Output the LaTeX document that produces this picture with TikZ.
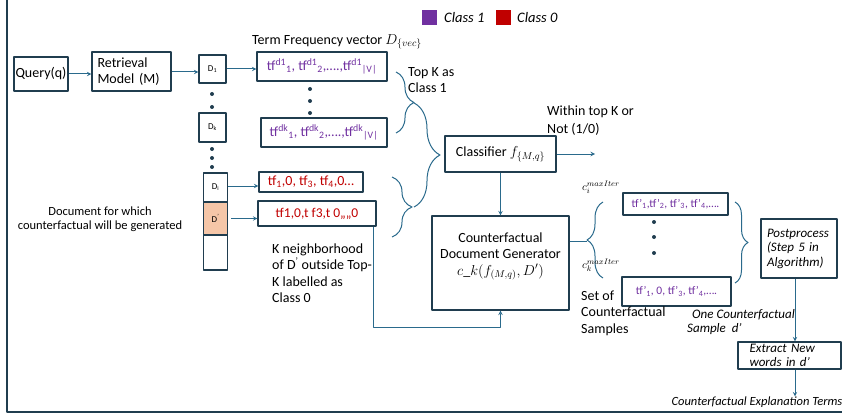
\documentclass[tikz,border=0pt]{standalone}
\usepackage{fontspec}
\setmainfont{Carlito}
\usetikzlibrary{decorations.pathreplacing}
\definecolor{boxcol}{HTML}{203D4F}
\definecolor{arrcol}{HTML}{2A6A8C}
\definecolor{cpurple}{HTML}{7030A0}
\definecolor{cred}{HTML}{C00000}
\definecolor{dfill}{HTML}{F5C6A8}
\begin{document}
\begin{tikzpicture}[>=stealth,x=1pt,y=-1pt,line join=round,
	box/.style={draw=boxcol,line width=1.2pt,inner sep=2pt,font=\fontsize{14}{16.5}\selectfont},
	dbox/.style={box,minimum width=27pt,font=\fontsize{9}{10}\selectfont},
	arr/.style={->,draw=arrcol,line width=1pt},
	brc/.style={draw=arrcol,line width=1pt,decorate,decoration={brace,amplitude=#1}},
	dot/.style={circle,fill=boxcol,inner sep=0pt,minimum size=4pt},
	txt/.style={font=\fontsize{14}{16.5}\selectfont,align=left,inner sep=0pt},
	itxt/.style={font=\fontsize{13}{14.5}\selectfont\itshape,align=left,inner sep=0pt}]
	\useasboundingbox (0,0) rectangle (842,417);
	\draw[draw=boxcol,line width=2pt] (7,0) -- (7,412) -- (842,412);
	% legend
	\node[fill=cpurple,minimum size=15pt,inner sep=0pt] (lgp) at (429,17.5) {};
	\node[itxt,font=\fontsize{14.5}{16}\selectfont\itshape,anchor=west] (lgptxt) at (444,17.5) {Class 1};
	\node[fill=cred,minimum size=15pt,inner sep=0pt] (lgr) at (503,17.5) {};
	\node[itxt,font=\fontsize{14.5}{16}\selectfont\itshape,anchor=west] (lgrtxt) at (517,17.5) {Class 0};
	% query and retrieval
	\node[box,minimum width=54pt,minimum height=34pt,inner sep=1pt] (query) at (41,74) {Query(q)};
	\node[box,minimum width=79pt,minimum height=39pt,align=left,text width=68pt] (retr) at (131.5,71.5) {Retrieval\\Model (M)};
	\draw[arr] (query.east) -- (query.east -| retr.west);
	% ranked documents
	\node[dbox,minimum height=28pt] (d1) at (212.5,69) {D\textsubscript{1}};
	\node[dbox,minimum height=29pt] (dk) at (212.5,127.5) {D\textsubscript{k}};
	\node[dbox,minimum width=24pt,minimum height=29pt] (di) at (215.5,187.5) {D\textsubscript{i}};
	\node[dbox,minimum width=24pt,minimum height=33pt,fill=dfill] (dp) at (215.5,218.5) {D\textsuperscript{'}};
	\node[dbox,minimum width=24pt,minimum height=35pt] (dnil) at (215.5,252.5) {};
	\draw[arr] (retr.east |- 0,72) -- (d1.west |- 0,72);
	\foreach \y in {94,107}{
		\node[dot] (ddot\y) at (212,\y) {};
	}
	\foreach \y in {149,158,167}{
		\node[dot] (ddot\y) at (212,\y) {};
	}
	\node[txt,font=\fontsize{12.5}{14.5}\selectfont,align=center] (doclbl) at (100,219) {Document for which\\counterfactual will be generated};
	% term frequency vectors
	\node[txt] (tfvec) at (337,42) {Term Frequency vector $D_{\{vec\}}$};
	\node[box,minimum width=130pt,minimum height=29pt,text=cpurple] (tfa) at (322,66.5) {tf\textsuperscript{d1}\textsubscript{1}, tf\textsuperscript{d1}\textsubscript{2},….,tf\textsuperscript{d1}\textsubscript{|V|}};
	\node[box,minimum width=126pt,minimum height=29pt,text=cpurple] (tfk) at (324,132.5) {tf\textsuperscript{dk}\textsubscript{1}, tf\textsuperscript{dk}\textsubscript{2},….,tf\textsuperscript{dk}\textsubscript{|V|}};
	\foreach \y in {89,101,113}{
		\node[dot] (tdot\y) at (310,\y) {};
	}
	\node[box,minimum width=104pt,minimum height=20pt,text=cred,font=\fontsize{14}{16}\selectfont] (tfi) at (311,182) {tf\textsubscript{1},0, tf\textsubscript{3}, tf\textsubscript{4},0…};
	\node[box,minimum width=118pt,minimum height=25pt,text=cred,font=\fontsize{13.5}{16}\selectfont] (tfp) at (317,213.5) {tf1,0,t f3,t 0,,,,0};
	\draw[arr] (d1.east) -- (d1.east -| tfa.west);
	\draw[arr] (di.east |- 0,186) -- (tfi.west |- 0,186);
	\draw[arr] ([xshift=3pt]dp.east) -- (dp.east -| tfp.west);
	\node[txt,anchor=west] (topk) at (408,80) {Top K as\\Class 1};
	\node[txt,anchor=west] (kneigh) at (272,273) {K neighborhood\\of D\textsuperscript{'} outside Top-\\K labelled as\\Class 0};
	% braces to classifier
	\draw[brc=18pt] (396,72) -- (396,133);
	\draw[brc=20pt] (392,177) -- (392,237);
	\draw[brc=26pt] (414,103) -- (414,207);
	\node[box,minimum width=111pt,minimum height=36pt] (clf) at (500.5,154) {Classifier $f_{\{M,q\}}$};
	\coordinate (outc) at (595,154);
	\draw[arr] (clf.east) -- (outc);
	\node[txt,anchor=west,font=\fontsize{14}{18}\selectfont] (within) at (547,121) {Within top K or\\Not (1/0)};
	% generator
	\node[box,minimum width=137pt,minimum height=94pt,align=center] (gen) at (500.5,263) {Counterfactual\\Document Generator\\$c\_k(f_{(M,q)},D')$\\[2pt]\mbox{}};
	\draw[arr] (clf.south) -- (gen.north);
	\draw[arr] ([xshift=-3pt]tfp.south east) |- ([yshift=-17pt]gen.south) -- (gen.south);
	% counterfactual samples
	\draw[brc=16pt] (603,278) -- (603,202);
	\draw[draw=arrcol,line width=1pt] (gen.east |- 0,241) -- (587,241);
	\node[inner sep=0pt,anchor=west,font=\fontsize{11}{12}\selectfont] (ci) at (582,187) {$c_i^{maxIter}$};
	\node[inner sep=0pt,anchor=west,font=\fontsize{11}{12}\selectfont] (ck) at (582,265) {$c_k^{maxIter}$};
	\node[box,minimum width=105pt,minimum height=22pt,text=cpurple,font=\fontsize{11.5}{13}\selectfont] (s1) at (675.5,204) {tf’\textsubscript{1},tf’\textsubscript{2}, tf’\textsubscript{3}, tf’\textsubscript{4},….};
	\node[box,minimum width=109pt,minimum height=29pt,text=cpurple,font=\fontsize{11.5}{13}\selectfont] (s2) at (676.5,291.5) {tf’\textsubscript{1}, 0, tf’\textsubscript{3}, tf’\textsubscript{4},….};
	\foreach \y in {222,237,253}{
		\node[dot] (sdot\y) at (654,\y) {};
	}
	\draw[brc=13pt] (735,202) -- (735,283);
	\node[txt,anchor=west] (setof) at (581,313) {Set of\\Counterfactual\\Samples};
	\node[itxt,anchor=west] (onecf) at (687,322) {\hspace*{5pt}One Counterfactual\\Sample\ \ d’};
	% postprocessing
	\node[box,minimum width=76pt,minimum height=59pt,itxt,align=left,text width=64pt] (post) at (799,248.5) {Postprocess\\(Step 5 in\\Algorithm)};
	\node[box,minimum width=103pt,minimum height=27pt,itxt,align=left,text width=80pt] (extr) at (789.5,355.5) {Extract New\\words in d’};
	\draw[arr] ([xshift=-4pt]post.south) -- ([xshift=-4pt]post.south |- extr.north);
	\node[itxt,font=\fontsize{12.5}{14}\selectfont\itshape] (terms) at (757,402) {Counterfactual Explanation Terms};
	\draw[arr] ([xshift=-4pt]post.south |- extr.south) -- ([xshift=-4pt]post.south |- terms.north);
\end{tikzpicture}
\end{document}
